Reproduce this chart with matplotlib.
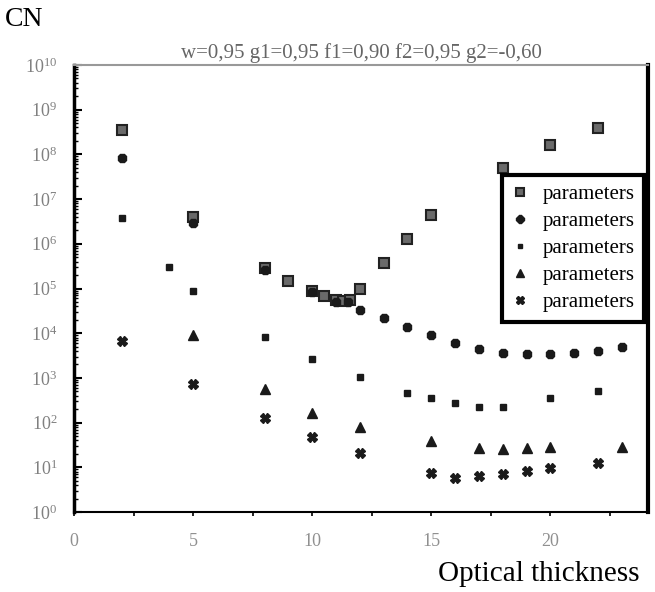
import numpy as np
import matplotlib
matplotlib.use("Agg")
import matplotlib.pyplot as plt
from matplotlib.ticker import LogLocator, FixedLocator, NullFormatter

# series
x_sq = [2, 5, 8, 9, 10, 10.5, 11, 11.3, 11.6, 12, 13, 14, 15, 18, 20, 22]
y_sq = [3.5e8, 4.0e6, 2.9e5, 1.5e5, 9.0e4, 6.8e4, 5.5e4, 5.3e4, 5.6e4, 1.0e5,
        3.7e5, 1.3e6, 4.4e6, 5.0e7, 1.6e8, 3.8e8]

x_ci = [2, 5, 8, 10, 11, 11.5, 12, 13, 14, 15, 16, 17, 18, 19, 20, 21, 22, 23]
y_ci = [8.3e7, 2.9e6, 2.6e5, 8.5e4, 5.0e4, 5.0e4, 3.3e4, 2.2e4, 1.4e4, 9.1e3,
        6.0e3, 4.4e3, 3.7e3, 3.4e3, 3.4e3, 3.6e3, 3.9e3, 4.8e3]

x_sm = [2, 4, 5, 8, 10, 12, 14, 15, 16, 17, 18, 20, 22]
y_sm = [3.8e6, 3.0e5, 8.8e4, 8.3e3, 2.6e3, 1.05e3, 460, 355, 275, 225, 225, 355, 510]

x_tr = [5, 8, 10, 12, 15, 17, 18, 19, 20, 23]
y_tr = [9.1e3, 565, 163, 80, 39, 27, 26, 27, 29, 29]

x_st = [2, 5, 8, 10, 12, 15, 16, 17, 18, 19, 20, 22]
y_st = [6.7e3, 730, 127, 48, 21, 7.5, 5.8, 6.4, 7.0, 8.3, 9.6, 12.5]

labels = ["parameters"] * 5
title = "w=0,95 g1=0,95 f1=0,90 f2=0,95 g2=-0,60"

serif = ["Liberation Serif", "DejaVu Serif"]

fig = plt.figure(figsize=(6.55, 5.92), dpi=100)
ax = fig.add_axes([74 / 655, 1 - 512 / 592, (648 - 74) / 655, (512 - 65) / 592])

ax.plot(x_sq, y_sq, ls="none", marker="s", ms=6.5, mfc="#6a6a6a", mec="#222222", mew=1.5, label=labels[0])
ax.plot(x_ci, y_ci, ls="none", marker="8", ms=6.5, mfc="#1a1a1a", mec="#1a1a1a", label=labels[1])
ax.plot(x_sm, y_sm, ls="none", marker="s", ms=3.8, mfc="#1a1a1a", mec="#1a1a1a", label=labels[2])
ax.plot(x_tr, y_tr, ls="none", marker="^", ms=6.5, mfc="#1a1a1a", mec="#1a1a1a", label=labels[3])
ax.plot(x_st, y_st, ls="none", marker="X", ms=6.5, mfc="#1a1a1a", mec="#1a1a1a", label=labels[4])

ax.set_yscale("log")
ax.set_ylim(1, 1e10)
ax.set_xlim(0, 24.1)

ax.yaxis.set_major_locator(LogLocator(base=10, numticks=12))
ax.yaxis.set_minor_locator(LogLocator(base=10, subs=np.arange(2, 10), numticks=12))
ax.yaxis.set_minor_formatter(NullFormatter())
ax.xaxis.set_major_locator(FixedLocator([0, 5, 10, 15, 20]))
ax.xaxis.set_minor_locator(FixedLocator([2.5, 7.5, 12.5, 17.5, 22.5]))

ax.tick_params(axis="y", which="major", direction="in", length=6, width=1.5, colors="black",
               labelcolor="#808080", labelsize=13, pad=12)
ax.tick_params(axis="y", which="minor", direction="in", length=3, width=1, colors="black")
ax.tick_params(axis="x", which="both", direction="out", length=3, width=1.2, colors="black",
               labelcolor="#909090", labelsize=13, pad=12)
for lab in ax.get_xticklabels() + ax.get_yticklabels():
    lab.set_family(serif)

ax.spines["top"].set_color("#999999")
ax.spines["top"].set_linewidth(1.5)
ax.spines["left"].set_linewidth(2.5)
ax.spines["bottom"].set_linewidth(1.5)
ax.spines["right"].set_linewidth(3)

ax.set_title(title, family=serif, fontsize=15, color="#666666", pad=5)

leg = ax.legend(loc="upper right", bbox_to_anchor=(0.993, 0.754), frameon=True, fancybox=False,
                prop={"family": serif, "size": 15}, handlelength=0.8, handletextpad=0.7,
                borderpad=0.45, labelspacing=0.36, borderaxespad=0, markerscale=0.85)
leg.get_frame().set_edgecolor("black")
leg.get_frame().set_linewidth(3)
leg.get_frame().set_alpha(1)

fig.text(5 / 655, 1 - 20 / 592, "CN", family=serif, fontsize=20, va="center", ha="left")
fig.text(640 / 655, 1 - 574 / 592, "Optical thickness", family=serif, fontsize=21,
         va="center", ha="right")

fig.savefig("out.png", dpi=100)
